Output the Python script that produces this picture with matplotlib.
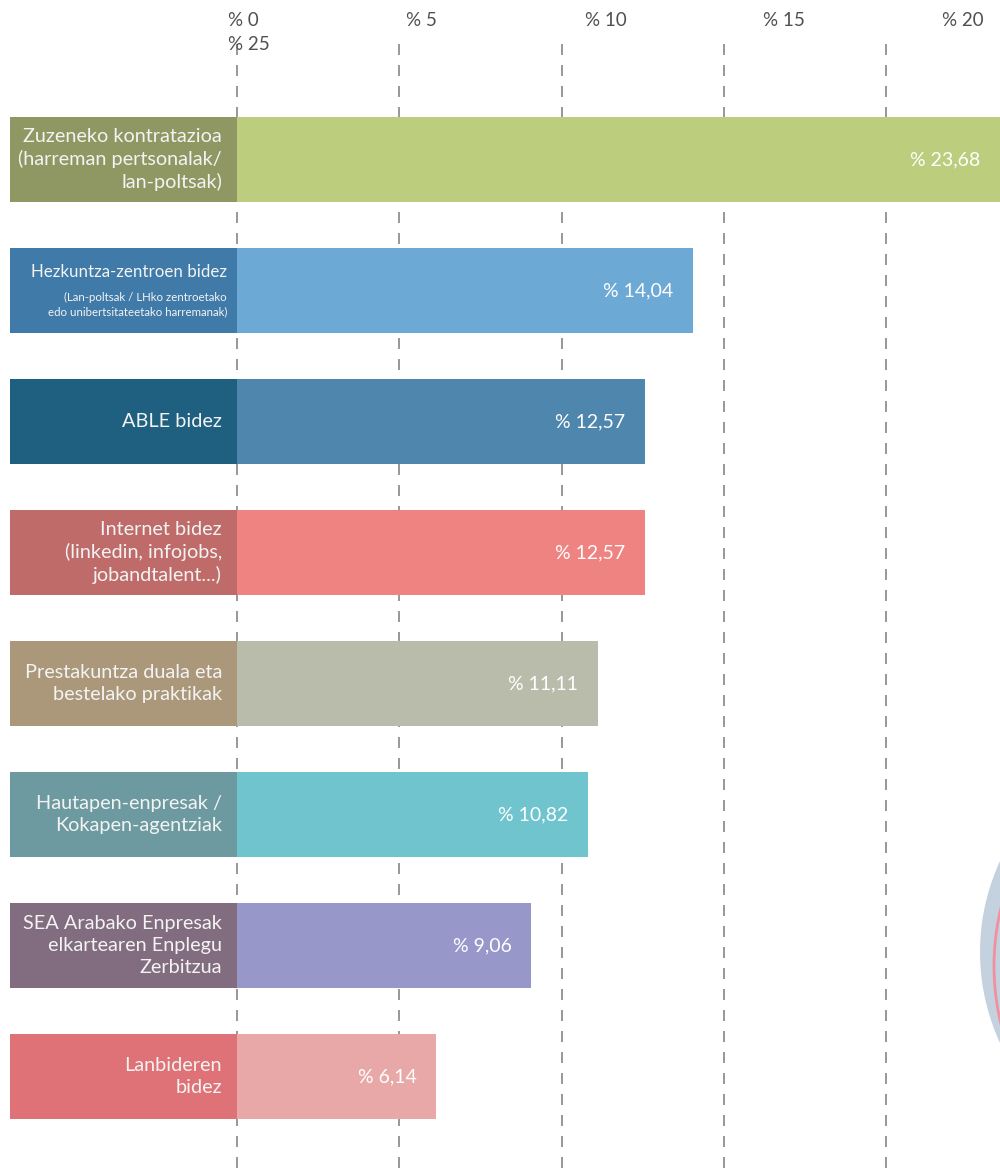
import matplotlib
matplotlib.use("Agg")
import matplotlib.pyplot as plt
from matplotlib.patches import Circle
from matplotlib.transforms import IdentityTransform

# ---------------- data ----------------
categories = [
    "Zuzeneko kontratazioa\n(harreman pertsonalak/\nlan-poltsak)",
    "Hezkuntza-zentroen bidez",
    "ABLE bidez",
    "Internet bidez\n(linkedin, infojobs,\njobandtalent...)",
    "Prestakuntza duala eta\nbestelako praktikak",
    "Hautapen-enpresak /\nKokapen-agentziak",
    "SEA Arabako Enpresak\nelkartearen Enplegu\nZerbitzua",
    "Lanbideren\nbidez",
]
sub_label = "(Lan-poltsak / LHko zentroetako\nedo unibertsitateetako harremanak)"
values = [23.68, 14.04, 12.57, 12.57, 11.11, 10.82, 9.06, 6.14]
value_labels = ["% 23,68", "% 14,04", "% 12,57", "% 12,57", "% 11,11", "% 10,82", "% 9,06", "% 6,14"]
ticks = [0, 5, 10, 15, 20]
tick_labels = ["% 0", "% 5", "% 10", "% 15", "% 20"]
extra_tick_label = "% 25"

label_colors = ["#8f9862", "#3f7aa8", "#1f5f80", "#bf6b69", "#ab987b", "#6d9aa0", "#826d80", "#de7276"]
bar_colors = ["#bccd7d", "#6da9d5", "#4e86ae", "#ef8381", "#babcab", "#6fc4cd", "#9797c9", "#e9a8a8"]

# ---------------- layout ----------------
W, H = 1000, 1171
fig = plt.figure(figsize=(W / 100, H / 100), dpi=100)
ax = fig.add_axes([0, 0, 1, 1])

px_per_unit = 32.45
x0_px = 237
xmin = -x0_px / px_per_unit
xmax = (W - x0_px) / px_per_unit
row_px = 131
first_center_px = 159.5
ytop = -first_center_px / row_px
ybot = (H - first_center_px) / row_px
ax.set_xlim(xmin, xmax)
ax.set_ylim(ybot, ytop)
ax.axis("off")

def px2x(px):
    return (px - x0_px) / px_per_unit

def px2y(py):
    return (py - first_center_px) / row_px

FONT = ["Lato", "DejaVu Sans"]

# decorative circles at the right edge
fig.add_artist(Circle((1197, H - 952), 217, transform=IdentityTransform(),
                      facecolor="#c4d2df", edgecolor="none", zorder=0))
fig.add_artist(Circle((1240, H - 966), 246, transform=IdentityTransform(),
                      facecolor="none", edgecolor="#f2909f", linewidth=2.0, zorder=0.5))

# dashed grid lines
lw = 1.44
ax.vlines(ticks, px2y(44), ybot, colors="#9a9a9a", linewidth=lw,
          linestyles=[(0, (11 * 0.72 / lw, 10 * 0.72 / lw))], zorder=1)

# tick labels (top)
for t, lab in zip(ticks, tick_labels):
    ax.text(t * 1.1 + px2x(228), px2y(21), lab, ha="left", va="center",
            fontsize=13.5, color="#505050", family=FONT, fontweight="normal")
ax.text(px2x(228), px2y(44), extra_tick_label, ha="left", va="center",
        fontsize=13.5, color="#505050", family=FONT, fontweight="normal")

ypos = list(range(len(values)))
bar_h = 85 / row_px
# label boxes
ax.barh(ypos, [-px2x(10)] * len(values), left=px2x(10), height=bar_h,
        color=label_colors, edgecolor="none", zorder=2)
# value bars
ax.barh(ypos, values, left=0, height=bar_h, color=bar_colors, edgecolor="none", zorder=2)

# category labels
TXT = "#f3f3f3"
for i, cat in enumerate(categories):
    if i == 1:
        ax.text(px2x(227), i - 0.14, cat, ha="right", va="center", fontsize=12.2,
                color=TXT, family=FONT, fontweight="normal", zorder=3)
        ax.text(px2x(227), i + 0.11, sub_label, ha="right", va="center", fontsize=8.3,
                color=TXT, family=FONT, fontweight="normal", zorder=3,
                linespacing=1.4)
    else:
        ax.text(px2x(222), i, cat, ha="right", va="center", fontsize=14.3,
                color=TXT, family=FONT, fontweight="normal", zorder=3,
                linespacing=1.35)

# value labels
for i, (v, lab) in enumerate(zip(values, value_labels)):
    end = min(v, xmax)
    ax.text(end - 0.6, i, lab, ha="right", va="center", fontsize=14,
            color="white", family=FONT, fontweight="normal", zorder=3)

fig.savefig("out.png", dpi=100)
